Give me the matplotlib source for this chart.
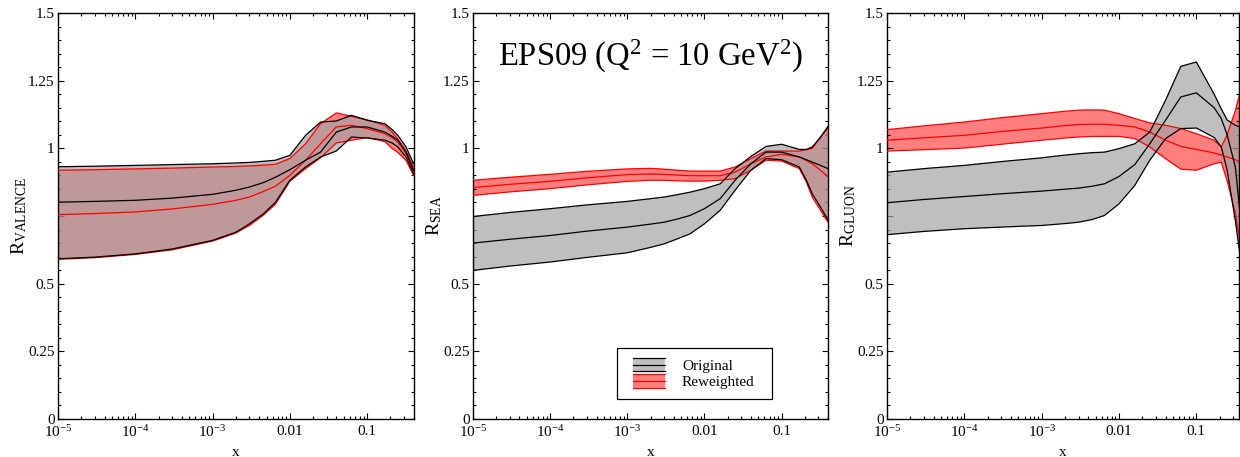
import matplotlib
matplotlib.use("Agg")
import matplotlib.pyplot as plt
from matplotlib.ticker import MultipleLocator, FixedLocator, FixedFormatter, LogLocator, NullFormatter
from matplotlib.legend_handler import HandlerBase
from matplotlib.patches import Rectangle, Patch
from matplotlib.lines import Line2D

plt.rcParams['font.family'] = ['Liberation Serif', 'DejaVu Serif']
plt.rcParams['mathtext.fontset'] = 'custom'
plt.rcParams['mathtext.rm'] = 'Liberation Serif'
plt.rcParams['mathtext.it'] = 'Liberation Serif:italic'
plt.rcParams['mathtext.bf'] = 'Liberation Serif:bold'

# ---------------- data ----------------
x_grid = [1e-5, 3e-5, 1e-4, 3e-4, 1e-3, 2e-3, 3e-3, 4.5e-3, 6.5e-3, 0.01, 0.016,
          0.025, 0.04, 0.063, 0.1, 0.17, 0.21, 0.25, 0.32, 0.4]

# valence
val_orig_up = [0.932, 0.934, 0.937, 0.940, 0.943, 0.946, 0.948, 0.952, 0.956, 0.974,
               1.048, 1.097, 1.101, 1.122, 1.104, 1.091, 1.070, 1.048, 1.005, 0.943]
val_orig_c = [0.801, 0.804, 0.808, 0.816, 0.830, 0.845, 0.857, 0.873, 0.893, 0.921,
              0.956, 0.986, 1.060, 1.079, 1.079, 1.060, 1.045, 1.030, 0.986, 0.919]
val_orig_lo = [0.592, 0.598, 0.610, 0.628, 0.660, 0.690, 0.721, 0.757, 0.800, 0.882,
               0.931, 0.968, 0.990, 1.042, 1.038, 1.030, 1.020, 1.005, 0.968, 0.906]
val_rew_up = [0.919, 0.921, 0.924, 0.927, 0.931, 0.933, 0.935, 0.938, 0.941, 0.962,
              1.017, 1.091, 1.131, 1.118, 1.105, 1.085, 1.060, 1.035, 0.990, 0.930]
val_rew_c = [0.755, 0.759, 0.765, 0.776, 0.793, 0.808, 0.820, 0.840, 0.860, 0.900,
             0.956, 1.017, 1.079, 1.085, 1.073, 1.054, 1.040, 1.023, 0.980, 0.919]
val_rew_lo = [0.590, 0.596, 0.608, 0.625, 0.657, 0.687, 0.715, 0.752, 0.793, 0.878,
              0.925, 0.965, 1.020, 1.030, 1.040, 1.025, 1.000, 0.985, 0.955, 0.900]

# sea
sea_orig_up = [0.748, 0.763, 0.777, 0.791, 0.804, 0.814, 0.820, 0.829, 0.838, 0.851,
               0.869, 0.925, 0.970, 1.007, 1.015, 0.996, 0.996, 1.005, 1.042, 1.081]
sea_orig_c = [0.650, 0.664, 0.678, 0.694, 0.709, 0.720, 0.727, 0.739, 0.752, 0.777,
              0.814, 0.882, 0.943, 0.986, 0.986, 0.968, 0.958, 0.949, 0.937, 0.925]
sea_orig_lo = [0.549, 0.565, 0.580, 0.597, 0.614, 0.634, 0.647, 0.666, 0.684, 0.721,
               0.771, 0.845, 0.919, 0.962, 0.958, 0.931, 0.882, 0.832, 0.783, 0.734]
sea_rew_up = [0.882, 0.893, 0.904, 0.915, 0.924, 0.926, 0.923, 0.919, 0.916, 0.916,
              0.916, 0.931, 0.962, 0.990, 0.990, 0.990, 0.995, 1.000, 1.040, 1.075]
sea_rew_c = [0.855, 0.867, 0.878, 0.891, 0.903, 0.905, 0.904, 0.901, 0.899, 0.899,
             0.899, 0.912, 0.943, 0.968, 0.978, 0.968, 0.955, 0.943, 0.919, 0.894]
sea_rew_lo = [0.826, 0.839, 0.851, 0.865, 0.878, 0.882, 0.882, 0.880, 0.879, 0.879,
              0.882, 0.888, 0.919, 0.956, 0.953, 0.925, 0.875, 0.820, 0.771, 0.727]

# gluon
glu_orig_up = [0.912, 0.925, 0.937, 0.951, 0.965, 0.975, 0.980, 0.984, 0.986, 0.999,
               1.017, 1.060, 1.178, 1.303, 1.319, 1.200, 1.146, 1.105, 1.085, 1.075]
glu_orig_c = [0.799, 0.811, 0.822, 0.832, 0.842, 0.849, 0.853, 0.860, 0.869, 0.896,
              0.940, 1.017, 1.104, 1.190, 1.205, 1.150, 1.110, 1.050, 0.930, 0.650]
glu_orig_lo = [0.681, 0.693, 0.703, 0.709, 0.715, 0.722, 0.727, 0.737, 0.752, 0.795,
               0.863, 0.956, 1.036, 1.073, 1.075, 1.040, 1.005, 0.920, 0.730, 0.530]
glu_rew_up = [1.069, 1.083, 1.097, 1.113, 1.128, 1.137, 1.141, 1.142, 1.141, 1.128,
              1.110, 1.094, 1.085, 1.073, 1.054, 1.030, 1.005, 1.050, 1.140, 1.250]
glu_rew_c = [1.030, 1.039, 1.048, 1.062, 1.075, 1.084, 1.088, 1.089, 1.089, 1.085,
             1.079, 1.060, 1.030, 1.007, 0.996, 0.983, 0.975, 0.968, 0.958, 0.945]
glu_rew_lo = [0.990, 0.995, 1.001, 1.015, 1.030, 1.038, 1.042, 1.044, 1.044, 1.044,
              1.036, 1.005, 0.962, 0.923, 0.919, 0.943, 0.949, 0.880, 0.760, 0.580]

panel_labels = [r'R$_{\mathrm{VALENCE}}$', r'R$_{\mathrm{SEA}}$', r'R$_{\mathrm{GLUON}}$']
x_tick_vals = [1e-5, 1e-4, 1e-3, 1e-2, 1e-1]
x_tick_labels = [r'$10^{-5}$', r'$10^{-4}$', r'$10^{-3}$', '0.01', '0.1']
y_tick_vals = [0, 0.25, 0.5, 0.75, 1.0, 1.25, 1.5]
y_tick_labels = ['0', '0.25', '0.5', '', '1', '1.25', '1.5']
legend_labels = ['Original', 'Reweighted']
title_text = r'EPS09 (Q$^2$ = 10 GeV$^2$)'

# ---------------- style ----------------
GRAY_FACE = (165/255, 165/255, 165/255)
GRAY_ALPHA = 0.7
RED_FACE = (1.0, 0.0, 0.0)
RED_ALPHA = 0.5
LW = 0.9

W, H = 1240, 457
fig = plt.figure(figsize=(W/100, H/100), dpi=100)

bottom = (H - 419) / H
height = 406 / H
boxes = [(58, 356), (473, 355), (887, 352)]
xmax = [0.405, 0.40, 0.356]

data = [
    (val_orig_up, val_orig_c, val_orig_lo, val_rew_up, val_rew_c, val_rew_lo),
    (sea_orig_up, sea_orig_c, sea_orig_lo, sea_rew_up, sea_rew_c, sea_rew_lo),
    (glu_orig_up, glu_orig_c, glu_orig_lo, glu_rew_up, glu_rew_c, glu_rew_lo),
]

axes = []
for i, (left, width) in enumerate(boxes):
    ax = fig.add_axes([left / W, bottom, width / W, height])
    axes.append(ax)
    ou, oc, ol, ru, rc, rl = data[i]
    ax.fill_between(x_grid, rl, ru, facecolor=RED_FACE, alpha=RED_ALPHA, lw=0, zorder=1)
    ax.fill_between(x_grid, ol, ou, facecolor=GRAY_FACE, alpha=GRAY_ALPHA, lw=0, zorder=2)
    for arr in (ru, rc, rl):
        ax.plot(x_grid, arr, color='red', lw=LW, zorder=3)
    for arr in (ou, oc, ol):
        ax.plot(x_grid, arr, color='black', lw=LW, zorder=4)

    ax.set_xscale('log')
    ax.set_xlim(1e-5, xmax[i])
    ax.set_ylim(0, 1.5)
    ax.xaxis.set_major_locator(FixedLocator(x_tick_vals))
    ax.xaxis.set_major_formatter(FixedFormatter(x_tick_labels))
    ax.xaxis.set_minor_locator(LogLocator(base=10, subs=range(2, 10), numticks=20))
    ax.xaxis.set_minor_formatter(NullFormatter())
    ax.yaxis.set_major_locator(FixedLocator(y_tick_vals))
    ax.yaxis.set_major_formatter(FixedFormatter(y_tick_labels))
    ax.yaxis.set_minor_locator(MultipleLocator(0.05))
    ax.tick_params(which='both', direction='in', top=True, right=True, width=0.8)
    ax.tick_params(which='major', length=4.5, labelsize=11)
    ax.tick_params(axis='y', which='major', pad=2.5)
    ax.tick_params(axis='x', which='major', pad=4)
    ax.tick_params(which='minor', length=2.3)
    for sp in ax.spines.values():
        sp.set_linewidth(1.0)
    ax.set_xlabel('x', fontsize=11, labelpad=4)
    ax.set_ylabel(panel_labels[i], fontsize=14, labelpad=-1)

# title in middle panel
axes[1].text(0.5, 0.894, title_text, transform=axes[1].transAxes,
             ha='center', va='center', fontsize=23.5)


class BandHandler(HandlerBase):
    def __init__(self, face, alpha, edge):
        super().__init__()
        self.face = face
        self.alpha = alpha
        self.edge = edge

    def create_artists(self, legend, orig_handle, xdescent, ydescent, width,
                       height, fontsize, trans):
        x0, y0 = -xdescent, -ydescent
        rect = Rectangle((x0, y0), width, height, facecolor=self.face,
                         alpha=self.alpha, edgecolor='none', transform=trans)
        arts = [rect]
        for yy in (y0, y0 + height / 2, y0 + height):
            arts.append(Line2D([x0, x0 + width], [yy, yy], color=self.edge,
                               lw=LW, transform=trans))
        return arts


# legend frame drawn as a rectangle in axes coordinates
ax2 = axes[1]
frame = Rectangle(((617 - 473) / 355, (419 - 399) / 406), 155 / 355, 51 / 406,
                  transform=ax2.transAxes, facecolor='white', edgecolor='black',
                  linewidth=0.9, zorder=5)
ax2.add_patch(frame)

p_orig = Patch(label=legend_labels[0])
p_rew = Patch(label=legend_labels[1])
leg = ax2.legend(handles=[p_orig, p_rew], labels=legend_labels,
                 handler_map={p_orig: BandHandler(GRAY_FACE, GRAY_ALPHA, 'black'),
                              p_rew: BandHandler(RED_FACE, RED_ALPHA, 'red')},
                 loc='center left', bbox_to_anchor=((633 - 473) / 355, (419 - 373.5) / 406),
                 borderaxespad=0, fontsize=11, handlelength=2.1,
                 handleheight=1.0, handletextpad=1.1, labelspacing=0.1,
                 borderpad=0, frameon=False)
leg.set_zorder(6)

fig.savefig('out.png', dpi=100)
